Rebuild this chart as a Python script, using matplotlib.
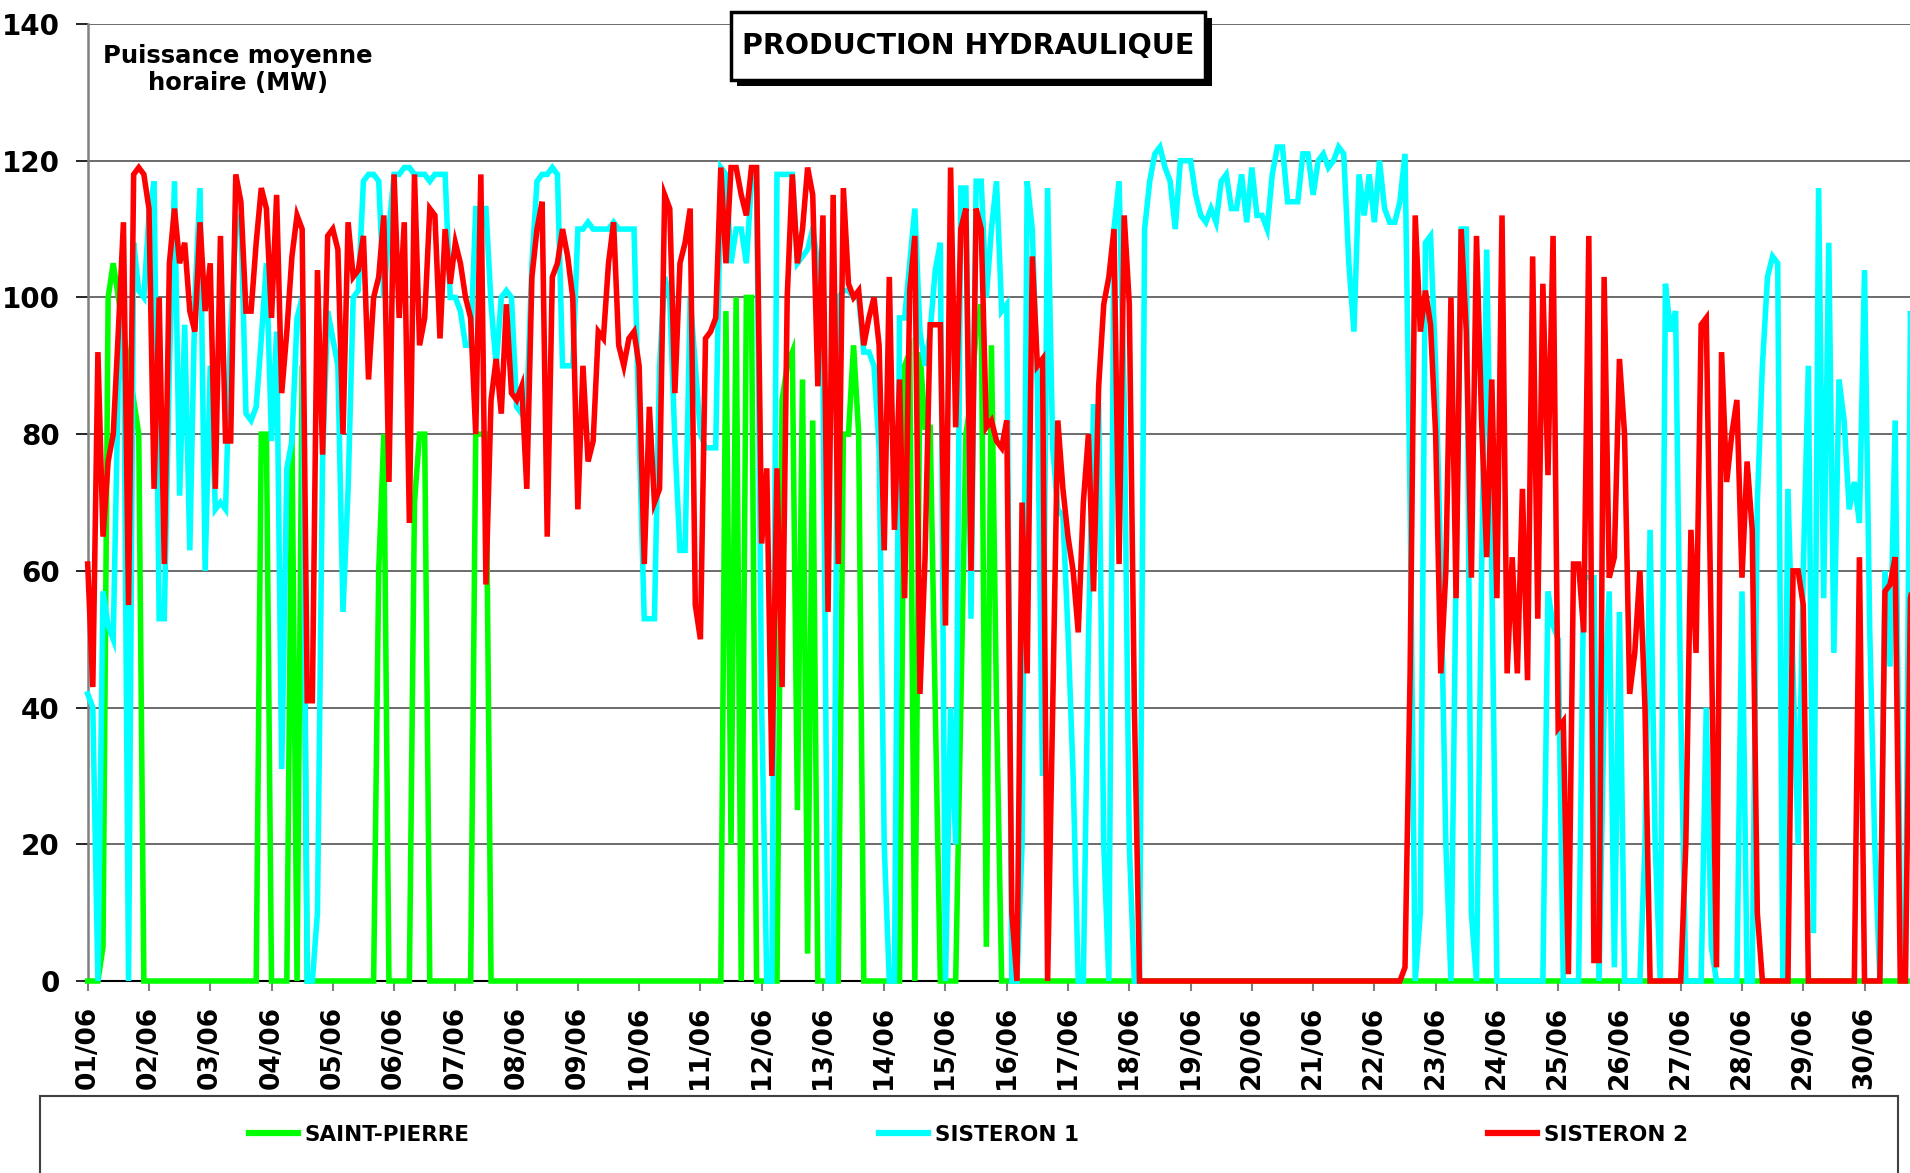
# Production hydraulique - puissance moyenne horaire, juin
import numpy as np
import matplotlib
matplotlib.use("Agg")
import matplotlib.pyplot as plt
from matplotlib.patches import Rectangle
from matplotlib.lines import Line2D

# valeurs relevees toutes les 2 heures (MW), une ligne = un jour
saint_pierre = [
    0, 0, 0, 5, 100, 105, 100, 95, 90, 85, 80, 0,
    0, 0, 0, 0, 0, 0, 0, 0, 0, 0, 0, 0,
    0, 0, 0, 0, 0, 0, 0, 0, 0, 0, 80, 80,
    0, 0, 0, 0, 80, 0, 90, 0, 0, 0, 0, 0,
    0, 0, 0, 0, 0, 0, 0, 0, 0, 60, 80, 0,
    0, 0, 0, 0, 70, 80, 80, 0, 0, 0, 0, 0,
    0, 0, 0, 0, 80, 80, 80, 0, 0, 0, 0, 0,
    0, 0, 0, 0, 0, 0, 0, 0, 0, 0, 0, 0,
    0, 0, 0, 0, 0, 0, 0, 0, 0, 0, 0, 0,
    0, 0, 0, 0, 0, 0, 0, 0, 0, 0, 0, 0,
    0, 0, 0, 0, 0, 98, 20, 100, 0, 100, 100, 0,
    0, 0, 0, 0, 85, 90, 92, 25, 88, 4, 82, 0,
    0, 0, 0, 0, 80, 80, 93, 80, 0, 0, 0, 0,
    0, 0, 0, 0, 90, 92, 0, 92, 81, 81, 40, 0,
    0, 0, 0, 40, 80, 85, 95, 99, 5, 93, 40, 0,
] + [0] * 12 * 15

sisteron_1 = [
    42, 40, 0, 57, 52, 50, 88, 100, 0, 108, 101, 100,
    112, 117, 53, 53, 90, 117, 71, 96, 63, 100, 116, 60,
    90, 69, 70, 69, 95, 110, 112, 83, 82, 84, 94, 105,
    79, 95, 31, 75, 79, 97, 100, 0, 0, 10, 76, 98,
    94, 90, 54, 72, 100, 101, 117, 118, 118, 117, 100, 110,
    118, 118, 119, 119, 118, 118, 118, 117, 118, 118, 118, 100,
    100, 98, 93, 93, 113, 113, 113, 99, 90, 100, 101, 100,
    84, 83, 84, 105, 117, 118, 118, 119, 118, 90, 90, 90,
    110, 110, 111, 110, 110, 110, 110, 111, 110, 110, 110, 110,
    80, 53, 53, 53, 90, 103, 100, 79, 63, 63, 100, 90,
    80, 78, 78, 78, 119, 118, 105, 110, 110, 105, 117, 118,
    40, 0, 0, 118, 118, 118, 118, 105, 106, 107, 110, 105,
    90, 0, 0, 100, 101, 101, 100, 100, 92, 92, 90, 78,
    20, 0, 0, 97, 97, 105, 113, 95, 90, 95, 104, 108,
    0, 40, 20, 116, 116, 53, 117, 117, 100, 110, 117, 98,
    99, 0, 0, 20, 117, 110, 87, 30, 116, 78, 69, 68,
    51, 30, 0, 0, 50, 84, 84, 20, 0, 110, 117, 85,
    20, 0, 0, 110, 117, 121, 122, 119, 117, 110, 120, 120,
    120, 115, 112, 111, 113, 111, 117, 118, 113, 113, 118, 111,
    119, 112, 112, 110, 118, 122, 122, 114, 114, 114, 121, 121,
    115, 120, 121, 119, 120, 122, 121, 105, 95, 118, 112, 118,
    111, 120, 113, 111, 111, 114, 121, 70, 0, 10, 108, 109,
    90, 60, 20, 0, 60, 110, 110, 10, 0, 60, 107, 60,
    0, 0, 0, 0, 0, 0, 0, 0, 0, 0, 57, 52,
    50, 0, 0, 0, 0, 59, 59, 59, 0, 40, 57, 2,
    54, 0, 0, 0, 0, 20, 66, 20, 0, 102, 95, 98,
    40, 0, 0, 0, 0, 40, 5, 0, 0, 0, 0, 0,
    57, 0, 0, 70, 90, 103, 106, 105, 0, 72, 45, 20,
    60, 90, 7, 116, 56, 108, 48, 88, 82, 69, 73, 67,
    104, 52, 20, 0, 60, 46, 82, 10, 0, 98, 80, 60,
]

sisteron_2 = [
    61, 43, 92, 65, 76, 80, 95, 111, 55, 118, 119, 118,
    113, 72, 100, 61, 105, 113, 105, 108, 98, 95, 111, 98,
    105, 72, 109, 79, 79, 118, 114, 98, 98, 108, 116, 113,
    97, 115, 86, 95, 106, 112, 110, 41, 41, 104, 77, 109,
    110, 107, 80, 111, 103, 104, 109, 88, 100, 103, 112, 73,
    118, 97, 111, 67, 118, 93, 97, 113, 112, 94, 110, 102,
    108, 105, 100, 97, 80, 118, 58, 85, 91, 83, 99, 86,
    85, 87, 72, 103, 110, 114, 65, 103, 105, 110, 106, 100,
    69, 90, 76, 79, 95, 94, 105, 111, 93, 90, 94, 95,
    90, 61, 84, 70, 72, 115, 113, 86, 105, 108, 113, 55,
    50, 94, 95, 97, 119, 105, 119, 119, 115, 112, 119, 119,
    64, 75, 30, 75, 43, 100, 118, 105, 110, 119, 115, 87,
    112, 54, 115, 61, 116, 102, 100, 101, 93, 97, 100, 93,
    63, 103, 66, 88, 56, 101, 109, 42, 62, 96, 96, 96,
    52, 119, 81, 110, 113, 60, 113, 110, 81, 82, 79, 78,
    82, 10, 0, 70, 45, 106, 90, 91, 0, 40, 82, 72,
    65, 60, 51, 70, 80, 57, 87, 99, 103, 110, 61, 112,
    99, 40, 0, 0, 0, 0, 0, 0, 0, 0, 0, 0,
    0, 0, 0, 0, 0, 0, 0, 0, 0, 0, 0, 0,
    0, 0, 0, 0, 0, 0, 0, 0, 0, 0, 0, 0,
    0, 0, 0, 0, 0, 0, 0, 0, 0, 0, 0, 0,
    0, 0, 0, 0, 0, 0, 2, 45, 112, 95, 101, 96,
    80, 45, 60, 100, 56, 110, 95, 59, 109, 82, 62, 88,
    56, 112, 45, 62, 45, 72, 44, 106, 53, 102, 74, 109,
    37, 38, 1, 61, 61, 51, 109, 3, 3, 103, 59, 62,
    91, 80, 42, 48, 60, 40, 0, 0, 0, 0, 0, 0,
    0, 20, 66, 48, 96, 97, 50, 2, 92, 73, 80, 85,
    59, 76, 66, 10, 0, 0, 0, 0, 0, 0, 60, 60,
    55, 0, 0, 0, 0, 0, 0, 0, 0, 0, 0, 62,
    0, 0, 0, 0, 57, 58, 62, 0, 0, 56, 60, 0,
]

day_labels = ["%02d/06" % d for d in range(1, 31)]
series_names = ["SAINT-PIERRE", "SISTERON 1", "SISTERON 2"]
series_colors = ["#00ff00", "#00ffff", "#ff0000"]

W, H = 1910, 1173
fig = plt.figure(figsize=(W / 100, H / 100), dpi=100, facecolor="white")

# axe : 0 MW a y=981 px, 140 MW a y=24 px, 01/06 a x=87.7 px, 61.27 px par jour
px_day = 61.27
ax_left = 87.7 / W
ax = fig.add_axes([ax_left, 1 - 981 / H, 1 - ax_left, (981 - 24) / H])

step_h = 2
t = np.arange(len(sisteron_1)) * step_h / 24.0

for vals, col in zip([saint_pierre, sisteron_1, sisteron_2], series_colors):
    ax.plot(t, vals, color=col, lw=4.0, solid_joinstyle="miter",
            clip_on=False, zorder=3)

ax.set_xlim(0, (W - 87.7) / px_day)
ax.set_ylim(0, 140)
ax.set_yticks(range(0, 141, 20))
ax.set_xticks(range(30))
ax.set_xticklabels(day_labels, rotation=90, fontsize=19, fontweight="bold")
for lab in ax.get_yticklabels():
    lab.set_fontweight("bold")

ax.set_axisbelow(True)
ax.yaxis.grid(True, color="#444444", lw=1.1)
ax.spines["top"].set_visible(False)
ax.spines["right"].set_visible(False)
ax.spines["left"].set_color("#808080")
ax.spines["left"].set_linewidth(1.8)
ax.spines["bottom"].set_color("black")
ax.spines["bottom"].set_linewidth(1.5)
ax.tick_params(axis="x", direction="out", length=7, width=1.5,
               color="#808080", pad=11)
ax.tick_params(axis="y", direction="out", length=9, width=1.2,
               color="black", pad=11, labelsize=20)

# libelle de l'axe y dans le coin, sur fond blanc
ax.text((238 - 87.7) / px_day, 133.3, "Puissance moyenne\nhoraire (MW)",
        ha="center", va="center", fontsize=17.5, fontweight="bold",
        linespacing=1.15, zorder=2,
        bbox=dict(boxstyle="square,pad=0.45", fc="white", ec="none"))

# titre encadre avec ombre
fig.add_artist(Rectangle((737 / W, 1 - 86 / H), 475 / W, 68 / H,
                         transform=fig.transFigure, fc="black", ec="black",
                         lw=0, zorder=5))
fig.add_artist(Rectangle((731 / W, 1 - 80 / H), 474 / W, 68 / H,
                         transform=fig.transFigure, fc="white", ec="black",
                         lw=2.5, zorder=6))
fig.text(968 / W, 1 - 46 / H, "PRODUCTION HYDRAULIQUE", ha="center",
         va="center", fontsize=20.5, fontweight="bold", zorder=7)

# cadre de legende (coupe en bas)
fig.add_artist(Rectangle((40 / W, 1 - 1190 / H), 1858 / W, 94 / H,
                         transform=fig.transFigure, fill=False,
                         ec="#404040", lw=1.5))
handles = [Line2D([], [], color=c, lw=4.5) for c in series_colors]
fig.legend(handles, series_names, loc="center left",
           bbox_to_anchor=(238 / W, 1 - 1135 / H), ncol=3, frameon=False,
           borderpad=0, handlelength=2.3, handletextpad=0.3,
           columnspacing=19.0, prop=dict(size=15.5, weight="bold"))

fig.savefig("out.png", dpi=100, facecolor="white")
